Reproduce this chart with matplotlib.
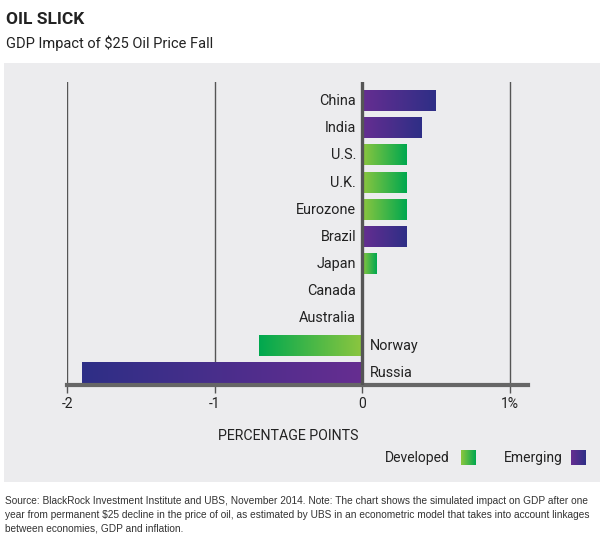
import numpy as np
import matplotlib.pyplot as plt
from matplotlib.patches import Rectangle
from matplotlib.colors import LinearSegmentedColormap

countries = ['China', 'India', 'U.S.', 'U.K.', 'Eurozone', 'Brazil', 'Japan',
             'Canada', 'Australia', 'Norway', 'Russia']
impact = [0.5, 0.4, 0.3, 0.3, 0.3, 0.3, 0.1, 0.0, 0.0, -0.7, -1.9]
group = ['Emerging', 'Emerging', 'Developed', 'Developed', 'Developed', 'Emerging',
         'Developed', 'Developed', 'Developed', 'Developed', 'Emerging']
xticks = [-2, -1, 0, 1]
xticklabels = ['-2', '-1', '0', '1%']

# gradient from the zero line outwards
cmaps = {
    'Developed': LinearSegmentedColormap.from_list('dev', ['#8dc63f', '#00a84f']),
    'Emerging': LinearSegmentedColormap.from_list('emg', ['#662d91', '#2e2f86']),
}

plt.rcParams['font.family'] = ['Roboto', 'DejaVu Sans']

fig = plt.figure(figsize=(6.05, 5.41), dpi=100)
fig.patches.append(Rectangle((4 / 605, 1 - 482 / 541), 596 / 605, 419 / 541,
                             transform=fig.transFigure, facecolor='#ececee',
                             edgecolor='none', zorder=-5))

ax = fig.add_axes([67 / 605, 1 - 385 / 541, 461 / 605, 303 / 541])
ax.set_facecolor('none')

grad = np.linspace(0, 1, 256).reshape(1, -1)
h = 0.37
for i, (c, v, g) in enumerate(zip(countries, impact, group)):
    if v != 0:
        if v > 0:
            img = grad
        else:
            img = grad[:, ::-1]
        ax.imshow(img, cmap=cmaps[g], aspect='auto', extent=(min(0, v), max(0, v), i + h, i - h),
                  zorder=2, interpolation='bilinear')
    if v >= 0:
        ax.text(-0.04, i, c, ha='right', va='center', fontsize=10.4, color='#222222')
    else:
        ax.text(0.05, i, c, ha='left', va='center', fontsize=10.4, color='#222222')
ax.set_xlim(-2, 1.125)
ax.set_ylim(10.45, -0.7)

for x in xticks:
    ax.axvline(x, color='#555555', lw=2.4 if x == 0 else 1.0, zorder=3 if x == 0 else 1)

for s in ['top', 'right', 'left']:
    ax.spines[s].set_visible(False)
ax.spines['bottom'].set_color('#666666')
ax.spines['bottom'].set_linewidth(3)
ax.set_yticks([])
ax.set_xticks(xticks)
ax.set_xticklabels(xticklabels, fontsize=10, color='#222222')
ax.tick_params(axis='x', length=6, width=1, color='#555555', pad=3)
ax.set_xlabel('PERCENTAGE POINTS', fontsize=10.2, color='#222222')
ax.xaxis.set_label_coords((288 - 67) / 461, -0.145)

fig.text(6 / 605, 1 - 20 / 541, 'OIL SLICK', fontsize=12.5, fontweight='bold',
         color='#222222', va='center')
fig.text(6 / 605, 1 - 43 / 541, 'GDP Impact of $25 Oil Price Fall', fontsize=10.5,
         color='#222222', va='center')

# legend
fig.text(450 / 605, 1 - 458 / 541, 'Developed', fontsize=10, ha='right', va='center', color='#222222')
fig.text(563 / 605, 1 - 458 / 541, 'Emerging', fontsize=10, ha='right', va='center', color='#222222')
for x0, g in [(461, 'Developed'), (571, 'Emerging')]:
    lax = fig.add_axes([x0 / 605, 1 - 465 / 541, 15 / 605, 15 / 541])
    lax.imshow(grad, cmap=cmaps[g], aspect='auto')
    lax.axis('off')

fig.text(5 / 605, 1 - 496 / 541,
         'Source: BlackRock Investment Institute and UBS, November 2014. Note: The chart shows the simulated impact on GDP after one\n'
         'year from permanent $25 decline in the price of oil, as estimated by UBS in an econometric model that takes into account linkages\n'
         'between economies, GDP and inflation.',
         fontsize=7.3, family=['Liberation Sans', 'DejaVu Sans'], color='#333333',
         va='top', linespacing=1.45)

fig.savefig('out.png', dpi=100)
